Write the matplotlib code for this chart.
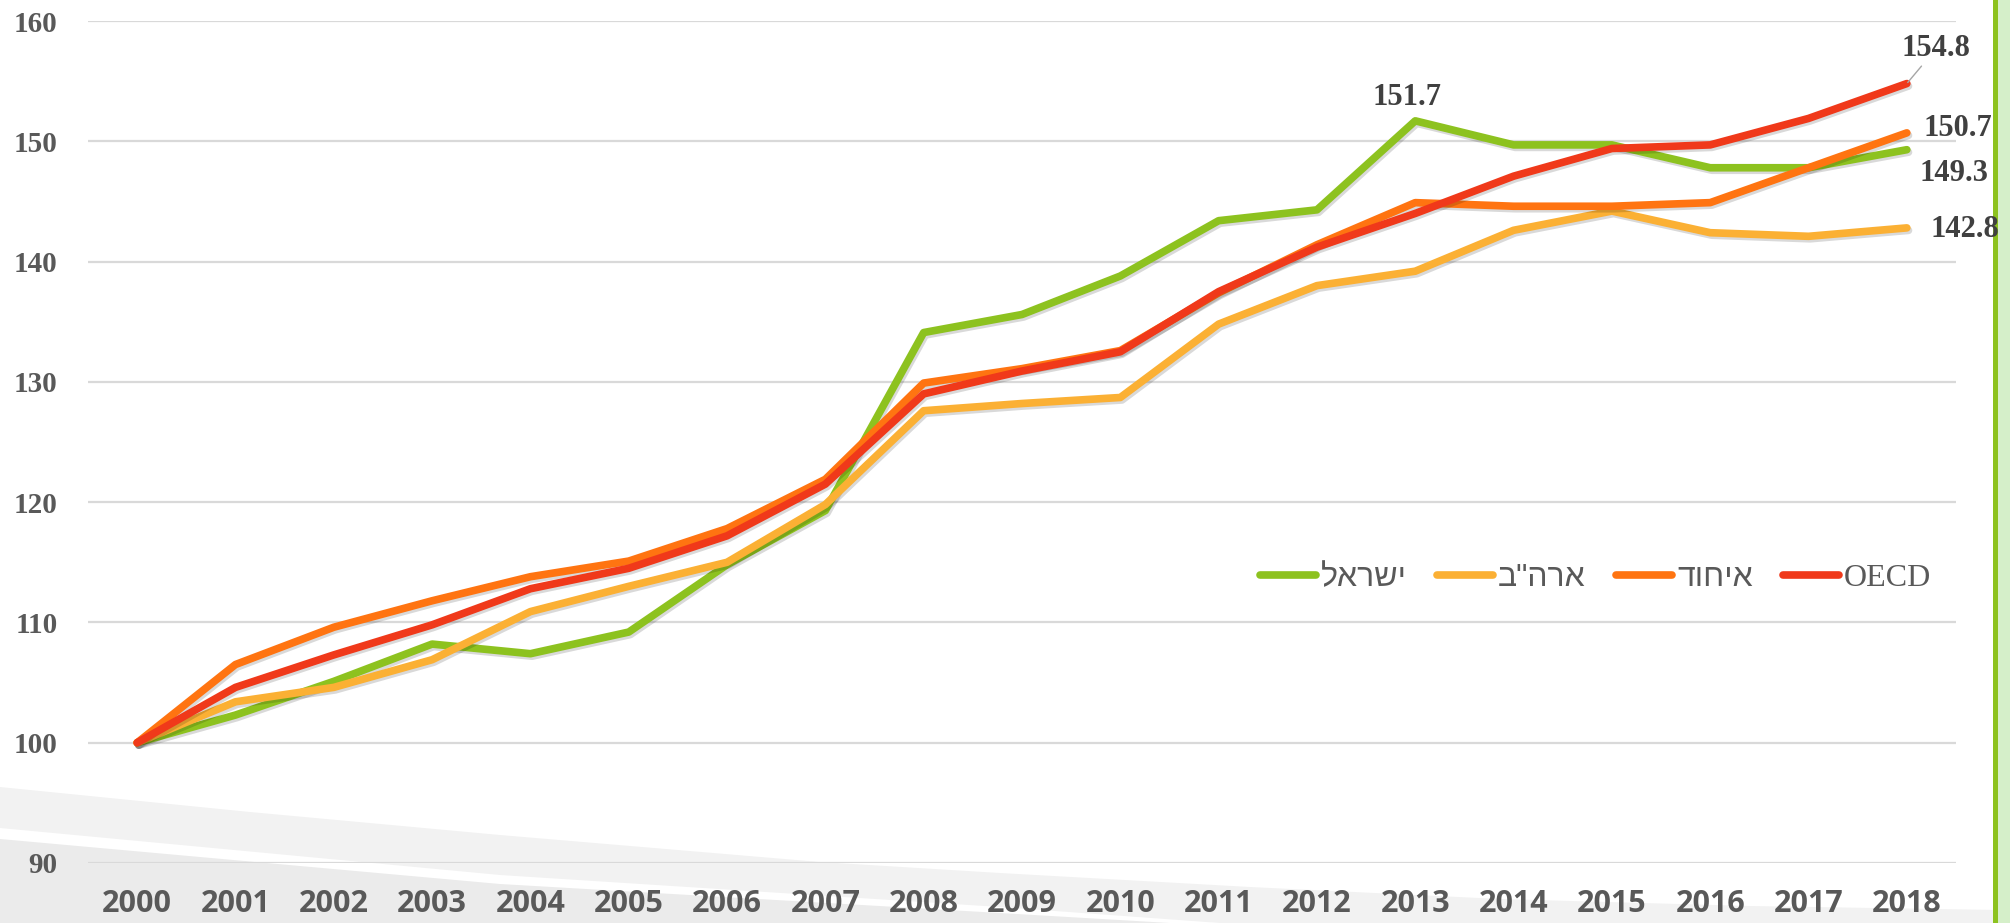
import matplotlib
matplotlib.use("Agg")
import matplotlib.pyplot as plt
import matplotlib.patheffects as pe
from matplotlib.patches import Polygon, Rectangle

# data (index, 2000 = 100)
years = list(range(2000, 2019))
israel = [100, 102.3, 105.1, 108.2, 107.4, 109.2, 114.8, 119.3, 134.1, 135.6,
          138.8, 143.4, 144.3, 151.7, 149.7, 149.7, 147.8, 147.8, 149.3]
usa = [100, 103.4, 104.6, 106.9, 110.9, 113.0, 115.0, 119.8, 127.6, 128.2,
       128.7, 134.8, 138.0, 139.2, 142.6, 144.2, 142.4, 142.1, 142.8]
eu = [100, 106.5, 109.6, 111.8, 113.8, 115.1, 117.8, 121.9, 129.9, 131.1,
      132.6, 137.4, 141.4, 144.9, 144.6, 144.6, 144.9, 147.8, 150.7]
oecd = [100, 104.6, 107.3, 109.8, 112.8, 114.5, 117.2, 121.5, 129.0, 130.9,
        132.5, 137.5, 141.2, 144.0, 147.1, 149.4, 149.7, 151.9, 154.8]

names = ['ישראל', 'ארה"ב', 'איחוד', 'OECD']
colors = ['#8dc21f', '#fbb034', '#ff7411', '#f0391a']
yticks = [90, 100, 110, 120, 130, 140, 150, 160]

GRAY = '#595959'
DARK = '#404040'
HEB = ['Liberation Sans', 'DejaVu Sans']
SERIF = ['Liberation Serif', 'DejaVu Serif']


def is_hebrew(s):
    return any('\u0590' <= ch <= '\u05ff' for ch in s)


def shown(s):
    # matplotlib lays text out left to right, so reverse Hebrew for display
    return s[::-1] if is_hebrew(s) else s


fig = plt.figure(figsize=(20.1, 9.23), dpi=100)

# background decoration in pixel coordinates
bg = fig.add_axes([0, 0, 1, 1], zorder=-5)
bg.set_xlim(0, 2010)
bg.set_ylim(923, 0)
bg.axis('off')
light = [(0, 787), (250, 812), (500, 835), (820, 862), (1000, 873), (1250, 887),
         (1500, 899), (1750, 906), (2000, 910), (2010, 923), (1220, 923),
         (1000, 907), (500, 875), (0, 828)]
bg.add_patch(Polygon(light, closed=True, color='#f2f2f2', lw=0))
dark = [(0, 839), (500, 884), (1000, 913), (1170, 923), (0, 923)]
bg.add_patch(Polygon(dark, closed=True, color='#ebebeb', lw=0))
bg.add_patch(Rectangle((1998, 0), 12, 923, color='#d5efc9', lw=0))
bg.add_patch(Rectangle((1993, 0), 5, 923, color='#8dc21f', lw=0))

ax = fig.add_axes([88 / 2010, 60 / 923, 1868 / 2010, 842 / 923])
ax.patch.set_alpha(0)

series = [israel, usa, eu, oecd]
shadow = [pe.SimpleLineShadow(offset=(1.2, -1.8), shadow_color='k', alpha=0.15),
          pe.Normal()]
for vals, name, col in zip(series, names, colors):
    ax.plot(years, vals, color=col, lw=5.5, label=shown(name),
            solid_capstyle='round', solid_joinstyle='round',
            path_effects=shadow, zorder=3)

ax.set_xlim(1999.5, 2018.5)
ax.set_ylim(90, 160)
ax.set_yticks(yticks)
ax.set_xticks(years)
ax.set_xticklabels([str(y) for y in years])
ax.grid(axis='y', color='#d9d9d9', lw=1.6)
ax.set_axisbelow(True)
for s in ax.spines.values():
    s.set_visible(False)
ax.tick_params(axis='both', length=0)
ax.tick_params(axis='x', pad=19, labelcolor=GRAY)
ax.tick_params(axis='y', pad=22, labelcolor=GRAY)
for t in ax.get_xticklabels():
    t.set_fontfamily(['Open Sans', 'DejaVu Sans'])
    t.set_fontweight('bold')
    t.set_fontsize(22)
for t in ax.get_yticklabels():
    t.set_fontfamily(SERIF)
    t.set_fontweight('bold')
    t.set_fontsize(21)

# value labels
lab = dict(fontsize=22, fontweight='bold', color=DARK, family=SERIF,
           ha='center', va='center', textcoords='offset points', zorder=5)
ax.annotate(f'{israel[13]:.1f}', xy=(years[13], israel[13]), xytext=(-6, 17), **lab)
ax.annotate(f'{oecd[-1]:.1f}', xy=(years[-1], oecd[-1]), xytext=(21, 25),
            arrowprops=dict(arrowstyle='-', color='#a6a6a6', lw=1,
                            shrinkA=0, shrinkB=1), **lab)
ax.annotate(f'{eu[-1]:.1f}', xy=(years[-1], eu[-1]), xytext=(37, 3), **lab)
ax.annotate(f'{israel[-1]:.1f}', xy=(years[-1], israel[-1]), xytext=(34, -17), **lab)
ax.annotate(f'{usa[-1]:.1f}', xy=(years[-1], usa[-1]), xytext=(42, -1), **lab)

leg = ax.legend(loc='center right', bbox_to_anchor=(1931 / 2010, 1 - 578 / 923),
                bbox_transform=fig.transFigure, ncol=4, frameon=False,
                fontsize=23, handlelength=1.75, handletextpad=0.15,
                columnspacing=0.95, borderpad=0, borderaxespad=0)
for txt, name in zip(leg.get_texts(), names):
    txt.set_color(GRAY)
    txt.set_fontfamily(HEB if is_hebrew(name) else SERIF)
for h in leg.get_lines():
    h.set_linewidth(5.5)
    h.set_solid_capstyle('round')
    h.set_path_effects([])

fig.savefig('out.png', dpi=100)
